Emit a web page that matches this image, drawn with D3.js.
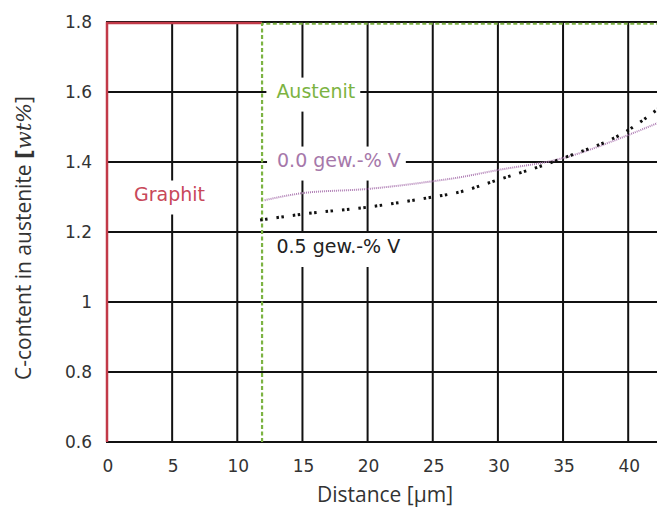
<!doctype html>
<html>
<head>
<script src="https://cdn.jsdelivr.net/npm/d3@7/dist/d3.min.js"></script>
<style>
  body { margin: 0; background: #fff; }
  svg { display: block; }
</style>
</head>
<body>
<svg width="657" height="507"></svg>
<script>
// data
var xTicks = [0, 5, 10, 15, 20, 25, 30, 35, 40, 45];
var yTicks = [0.6, 0.8, 1.0, 1.2, 1.4, 1.6, 1.8];
var yTickLabels = ["0.6", "0.8", "1", "1.2", "1.4", "1.6", "1.8"];

// distance [um] / C-content [wt%]
var v00x = [12.1, 15, 20, 25, 26.7, 30, 35, 40, 42.3];
var v00y = [1.291, 1.311, 1.323, 1.345, 1.354, 1.377, 1.411, 1.477, 1.512];
var v05x = [11.75, 15, 20, 25, 26.7, 30, 35, 40, 42.3];
var v05y = [1.234, 1.251, 1.271, 1.300, 1.311, 1.349, 1.411, 1.491, 1.552];

var interface_x = 11.9;
var graphitX = [0, 0, interface_x];
var graphitY = [0.6, 1.797, 1.797];
var austenitX = [interface_x, interface_x, 45];
var austenitY = [0.6, 1.795, 1.795];

var labels = [
  { text: "Austenit", x: 13.0, y: 1.603, color: "#7cb342" },
  { text: "0.0 gew.-% V", x: 13.05, y: 1.406, color: "#a678aa" },
  { text: "0.5 gew.-% V", x: 13.0, y: 1.159, color: "#222" },
  { text: "Graphit", x: 2.07, y: 1.309, color: "#c8485a" }
];

var svg = d3.select("svg");
var x = d3.scaleLinear().domain([0, 45]).range([107, 107 + 45 * 13.03]);
var y = d3.scaleLinear().domain([0.6, 1.8]).range([442, 22]);

var grid = svg.append("g");
// vertical grid
grid.selectAll("line.v").data(xTicks).enter().append("line")
  .attr("x1", d => x(d)).attr("x2", d => x(d))
  .attr("y1", y(0.6)).attr("y2", y(1.8))
  .style("stroke", "#111").style("stroke-width", 2);
// horizontal grid
grid.selectAll("line.h").data(yTicks).enter().append("line")
  .attr("x1", x(0) - 1).attr("x2", x(45))
  .attr("y1", d => y(d)).attr("y2", d => y(d))
  .style("stroke", "#111").style("stroke-width", 2);

// tick labels
svg.append("g").selectAll("text").data(xTicks.slice(0, 9)).enter().append("text")
  .attr("x", d => x(d) + 1).attr("y", 472)
  .attr("text-anchor", "middle")
  .style("font-family", "DejaVu Sans").style("font-size", "17px").style("fill", "#333")
  .text(d => d);
svg.append("g").selectAll("text").data(yTicks).enter().append("text")
  .attr("x", 92).attr("y", d => y(d) + 6)
  .attr("text-anchor", "end")
  .style("font-family", "DejaVu Sans").style("font-size", "17px").style("fill", "#333")
  .text((d, i) => yTickLabels[i]);

// axis titles
svg.append("text")
  .attr("x", 385).attr("y", 502)
  .attr("text-anchor", "middle")
  .style("font-family", "Open Sans").style("font-size", "21px").style("fill", "#333")
  .text("Distance [µm]");
var yt = svg.append("text")
  .attr("text-anchor", "middle")
  .attr("transform", "translate(31,238)rotate(-90)")
  .style("font-family", "Open Sans").style("font-size", "21px").style("fill", "#333");
yt.append("tspan").text("C-content in austenite ");
yt.append("tspan").style("font-weight", "bold").style("font-family", "DejaVu Sans").text("[");
yt.append("tspan").style("font-family", "DejaVu Serif").style("font-style", "italic").text("wt%");
yt.append("tspan").text("]");

// label boxes + labels
var lab = svg.append("g");
labels.forEach(function (l) {
  var t = lab.append("text")
    .attr("x", x(l.x)).attr("y", y(l.y))
    .attr("dy", "0.35em")
    .style("font-family", "DejaVu Sans").style("font-size", "19px")
    .style("fill", l.color)
    .text(l.text);
  var b = t.node().getBBox();
  lab.insert("rect", "text")
    .attr("x", b.x - 10).attr("y", b.y - 2)
    .attr("width", b.width + 15).attr("height", b.height + 12)
    .style("fill", "#fff");
});
// keep texts above all boxes
lab.selectAll("text").raise();

var line = d3.line().x(d => x(d[0])).y(d => y(d[1]));

// graphite boundary
svg.append("path")
  .datum(d3.zip(graphitX, graphitY))
  .attr("d", line)
  .style("fill", "none").style("stroke", "#c23a48").style("stroke-width", 2.5);

// austenite boundary
svg.append("path")
  .datum(d3.zip(austenitX, austenitY))
  .attr("d", line)
  .style("fill", "none").style("stroke", "#7cb342").style("stroke-width", 2.2)
  .style("stroke-dasharray", "4,2.5");

var curve = d3.line().x(d => x(d[0])).y(d => y(d[1])).curve(d3.curveMonotoneX);

svg.append("path")
  .datum(d3.zip(v00x, v00y))
  .attr("d", curve)
  .style("fill", "none").style("stroke", "#b07fb5").style("stroke-width", 2)
  .style("stroke-dasharray", "1,1");

svg.append("path")
  .datum(d3.zip(v05x, v05y))
  .attr("d", curve)
  .style("fill", "none").style("stroke", "#111").style("stroke-width", 3)
  .style("stroke-dasharray", "2.5,2.5,2.5,9");
</script>
</body>
</html>
